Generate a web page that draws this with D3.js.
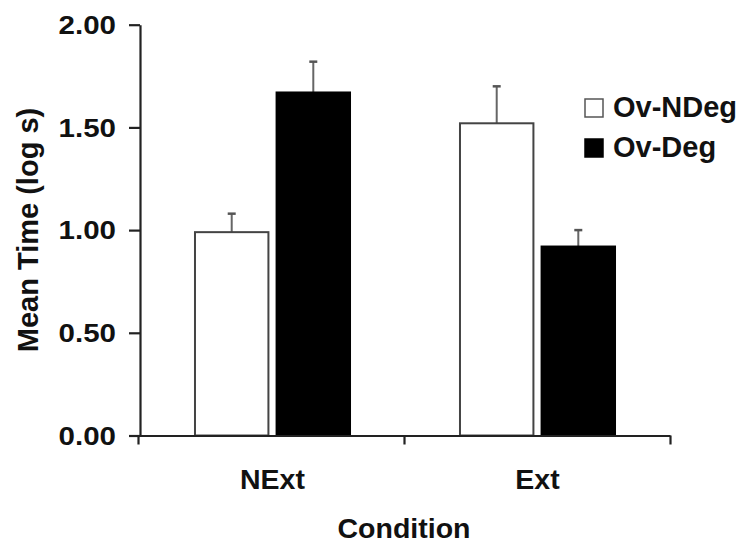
<!DOCTYPE html>
<html>
<head>
<meta charset="utf-8">
<script src="https://cdn.jsdelivr.net/npm/d3@7"></script>
<style>
  html, body { margin: 0; padding: 0; background: #fff; }
  svg { display: block; font-family: "Liberation Sans", Arial, Helvetica, sans-serif; font-weight: bold; }
</style>
</head>
<body>
<svg id="chart" width="756" height="558"></svg>
<script>
// ---- data ----
const categories = ["NExt", "Ext"];
const seriesNames = ["Ov-NDeg", "Ov-Deg"];
const meanNDeg = [0.99, 1.52];
const meanDeg = [1.67, 0.92];
const errNDeg = [0.09, 0.18];
const errDeg = [0.15, 0.08];
const yTicks = [0, 0.5, 1.0, 1.5, 2.0];
const yLabel = "Mean Time (log s)";
const xLabel = "Condition";

const seriesColors = ["#ffffff", "#000000"];
const rows = categories.map((c, i) => ({
  cat: c,
  vals: [
    { s: seriesNames[0], v: meanNDeg[i], e: errNDeg[i] },
    { s: seriesNames[1], v: meanDeg[i], e: errDeg[i] }
  ]
}));

const svg = d3.select("#chart");
const x0 = 140, x1 = 670, yTop = 24.7, yBot = 435.5;

const y = d3.scaleLinear().domain([0, 2]).range([yBot, yTop]);
const xCat = d3.scaleBand().domain(categories).range([x0, x1]).paddingInner(0.415).paddingOuter(0.2075);
const xSer = d3.scaleBand().domain(seriesNames).range([0, xCat.bandwidth()]).paddingInner(0.1);
const color = d3.scaleOrdinal().domain(seriesNames).range(seriesColors);

// bars
const g = svg.append("g");
const groups = g.selectAll("g.cat").data(rows).join("g")
  .attr("transform", d => `translate(${xCat(d.cat)},0)`);

// error bars (upper only)
groups.selectAll("g.err").data(d => d.vals).join("g").each(function(d) {
  const cx = xSer(d.s) + xSer.bandwidth() / 2;
  const sel = d3.select(this);
  sel.append("line").attr("x1", cx).attr("x2", cx)
    .attr("y1", y(d.v)).attr("y2", y(d.v + d.e))
    .attr("stroke", "#666").attr("stroke-width", 2);
  sel.append("line").attr("x1", cx - 4).attr("x2", cx + 4)
    .attr("y1", y(d.v + d.e)).attr("y2", y(d.v + d.e))
    .attr("stroke", "#555").attr("stroke-width", 2.5);
});

groups.selectAll("rect").data(d => d.vals).join("rect")
  .attr("x", d => xSer(d.s))
  .attr("width", xSer.bandwidth())
  .attr("y", d => y(d.v))
  .attr("height", d => y(0) - y(d.v))
  .attr("fill", d => color(d.s))
  .attr("stroke", d => d.s === seriesNames[0] ? "#444" : "#000")
  .attr("stroke-width", 2);

// y axis
const yAxis = svg.append("g").attr("transform", `translate(${x0},0)`)
  .call(d3.axisLeft(y).tickValues(yTicks).tickSize(11).tickSizeOuter(0).tickFormat(d3.format(".2f")));
yAxis.select(".domain").attr("stroke", "#222").attr("stroke-width", 2.2);
yAxis.selectAll(".tick line").attr("stroke", "#222").attr("stroke-width", 2.2);
yAxis.selectAll(".tick text")
  .attr("x", null).attr("dy", null)
  .attr("text-anchor", "end")
  .attr("dominant-baseline", "central")
  .attr("transform", "translate(-24,0) scale(1.18,1)")
  .attr("fill", "#111")
  .style("font-size", "25px").style("font-weight", "bold")
  .style("font-family", '"Liberation Sans", Arial, Helvetica, sans-serif');

// x axis
const xAxisScale = d3.scalePoint().domain(["a", "b", "c"]).range([x0 - 2, x1]);
const xAxis = svg.append("g").attr("transform", `translate(0,${yBot})`)
  .call(d3.axisBottom(xAxisScale).tickSize(9).tickSizeOuter(0).tickFormat(""));
xAxis.select(".domain").attr("stroke", "#222").attr("stroke-width", 2.2);
xAxis.selectAll(".tick line").attr("stroke", "#222").attr("stroke-width", 2.2);

// category labels
svg.append("g").selectAll("text").data(categories).join("text")
  .attr("x", d => xCat(d) + xCat.bandwidth() / 2)
  .attr("y", 489)
  .attr("text-anchor", "middle")
  .attr("fill", "#111")
  .style("font-size", "28.5px")
  .text(d => d);

// axis titles
svg.append("text")
  .attr("x", 404).attr("y", 538)
  .attr("text-anchor", "middle")
  .attr("fill", "#111")
  .style("font-size", "28.5px")
  .text(xLabel);

svg.append("text")
  .attr("transform", "translate(38,230) rotate(-90)")
  .attr("text-anchor", "middle")
  .attr("fill", "#111")
  .style("font-size", "29px")
  .text(yLabel);

// legend
const leg = svg.append("g").selectAll("g").data(seriesNames).join("g")
  .attr("transform", (d, i) => `translate(585,${117 + i * 40})`);
leg.append("rect")
  .attr("x", 0).attr("y", -18).attr("width", 18).attr("height", 18)
  .attr("fill", d => color(d))
  .attr("stroke", (d, i) => i === 0 ? "#555" : "#000")
  .attr("stroke-width", 1.5);
leg.append("text")
  .attr("x", 28).attr("y", 0)
  .attr("fill", "#111")
  .style("font-size", "29px")
  .text(d => d);
</script>
</body>
</html>
